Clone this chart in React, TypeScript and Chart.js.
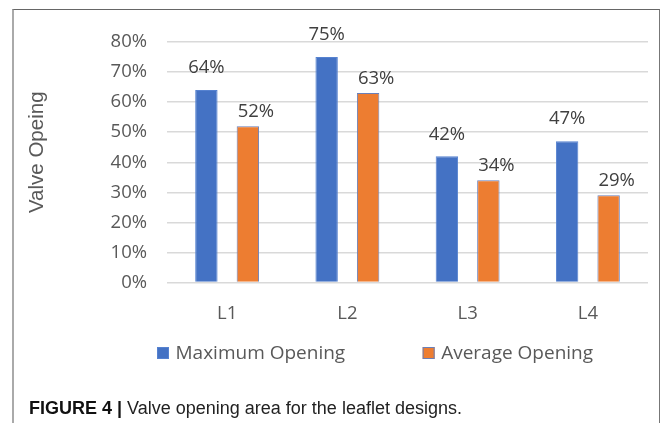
import React, { useEffect, useRef } from "react";
import { Chart, registerables } from "chart.js";

Chart.register(...registerables);

// ---- data ----
const categories = ["L1", "L2", "L3", "L4"];
const maximumOpening = [64, 75, 42, 47];
const averageOpening = [52, 63, 34, 29];
const seriesNames = ["Maximum Opening", "Average Opening"];
const yMin = 0;
const yMax = 80;
const yStep = 10;
const yTitle = "Valve Opeing";
const captionBold = "FIGURE 4 |";
const captionText = " Valve opening area for the leaflet designs.";

const BLUE = "#4472C4";
const ORANGE = "#ED7D31";
const FONT = '"Open Sans", "Noto Sans", sans-serif';

const valueLabels = {
  id: "valueLabels",
  afterDatasetsDraw(chart: any, _args: any, opts: any) {
    const ctx = chart.ctx;
    ctx.save();
    ctx.font = `18.5px ${FONT}`;
    ctx.fillStyle = "#404040";
    ctx.textAlign = "center";
    ctx.textBaseline = "middle";
    chart.data.datasets.forEach((ds: any, i: number) => {
      const meta = chart.getDatasetMeta(i);
      const off = (opts.offsets && opts.offsets[i]) || { dx: 0, dy: 18 };
      meta.data.forEach((bar: any, j: number) => {
        ctx.fillText(`${ds.data[j]}%`, bar.x + off.dx, bar.y - off.dy);
      });
    });
    ctx.restore();
  },
};

const customLegend = {
  id: "customLegend",
  afterDraw(chart: any, _args: any, opts: any) {
    const ctx = chart.ctx;
    ctx.save();
    ctx.font = `19px ${FONT}`;
    ctx.textBaseline = "middle";
    ctx.textAlign = "left";
    let x = opts.startX;
    const y = opts.y;
    const box = 12;
    chart.data.datasets.forEach((ds: any) => {
      ctx.fillStyle = ds.backgroundColor;
      ctx.fillRect(x, y - box / 2, box, box);
      ctx.strokeStyle = ds.borderColor;
      ctx.lineWidth = 1;
      ctx.strokeRect(x + 0.5, y - box / 2 + 0.5, box - 1, box - 1);
      x += box + opts.textGap;
      ctx.fillStyle = "#595959";
      ctx.fillText(ds.label, x, y + 1);
      x += ctx.measureText(ds.label).width + opts.itemGap;
    });
    ctx.restore();
  },
};

const axisTitle = {
  id: "axisTitle",
  afterDraw(chart: any, _args: any, opts: any) {
    const ctx = chart.ctx;
    const area = chart.chartArea;
    ctx.save();
    ctx.font = `20.5px "Liberation Sans", Arial, sans-serif`;
    ctx.fillStyle = "#595959";
    ctx.textAlign = "center";
    ctx.textBaseline = "alphabetic";
    ctx.translate(opts.x, (area.top + area.bottom) / 2 + opts.dy);
    ctx.rotate(-Math.PI / 2);
    ctx.fillText(opts.text, 0, 0);
    ctx.restore();
  },
};

export default function App() {
  const canvasRef = useRef<HTMLCanvasElement | null>(null);

  useEffect(() => {
    if (!canvasRef.current) return;
    const chart = new Chart(canvasRef.current, {
      type: "bar",
      data: {
        labels: categories,
        datasets: [
          {
            label: seriesNames[0],
            data: maximumOpening,
            backgroundColor: BLUE,
            borderColor: "#5682d0",
            borderWidth: 1,
            categoryPercentage: 0.69,
            barPercentage: 0.54,
          },
          {
            label: seriesNames[1],
            data: averageOpening,
            backgroundColor: ORANGE,
            borderColor: "#6a7fb8",
            borderWidth: 1,
            categoryPercentage: 0.69,
            barPercentage: 0.54,
          },
        ],
      },
      options: {
        responsive: false,
        animation: false,
        layout: { padding: { left: 0, top: 42, right: 15, bottom: 90.5 } },
        scales: {
          x: {
            grid: { display: false, drawTicks: false },
            border: { display: false },
            ticks: { color: "#595959", font: { family: FONT, size: 18.5 }, padding: 20 },
            afterFit: (s: any) => {
              s.height = 50;
            },
          },
          y: {
            min: yMin,
            max: yMax,
            grid: { color: "#d9d9d9", lineWidth: 1.5, drawTicks: false },
            border: { display: false },
            ticks: {
              stepSize: yStep,
              color: "#595959",
              font: { family: FONT, size: 18.5 },
              padding: 20,
              callback: (v: any) => `${v}%`,
            },
            afterFit: (s: any) => {
              s.width = 167;
            },
          },
        },
        plugins: {
          legend: { display: false },
          tooltip: { enabled: false },
          valueLabels: { offsets: [{ dx: 0, dy: 22 }, { dx: 8, dy: 14.5 }] },
          customLegend: { startX: 157, y: 353, textGap: 6.5, itemGap: 77.5 },
          axisTitle: { text: yTitle, x: 43, dy: -10 },
        } as any,
      },
      plugins: [valueLabels, customLegend, axisTitle],
    });
    return () => chart.destroy();
  }, []);

  return (
    <div
      style={{
        position: "absolute",
        left: 0,
        top: 0,
        width: 663,
        height: 423,
        background: "#ffffff",
        overflow: "hidden",
      }}
    >
      <canvas
        ref={canvasRef}
        width={663}
        height={423}
        style={{ position: "absolute", left: 0, top: 0, width: 663, height: 423 }}
      />
      <div
        style={{
          position: "absolute",
          left: 12,
          top: 9,
          width: 645,
          height: 440,
          borderTop: "1px solid #666",
          borderRight: "1px solid #777",
          borderLeft: "2px solid #aaa",
          pointerEvents: "none",
        }}
      />
      <div
        style={{
          position: "absolute",
          left: 29,
          top: 397,
          whiteSpace: "nowrap",
          fontFamily: '"Liberation Sans", Arial, sans-serif',
          fontSize: 18,
          lineHeight: "22px",
          color: "#222",
        }}
      >
        <span style={{ fontWeight: "bold", color: "#111" }}>{captionBold}</span>
        <span>{captionText}</span>
      </div>
    </div>
  );
}
